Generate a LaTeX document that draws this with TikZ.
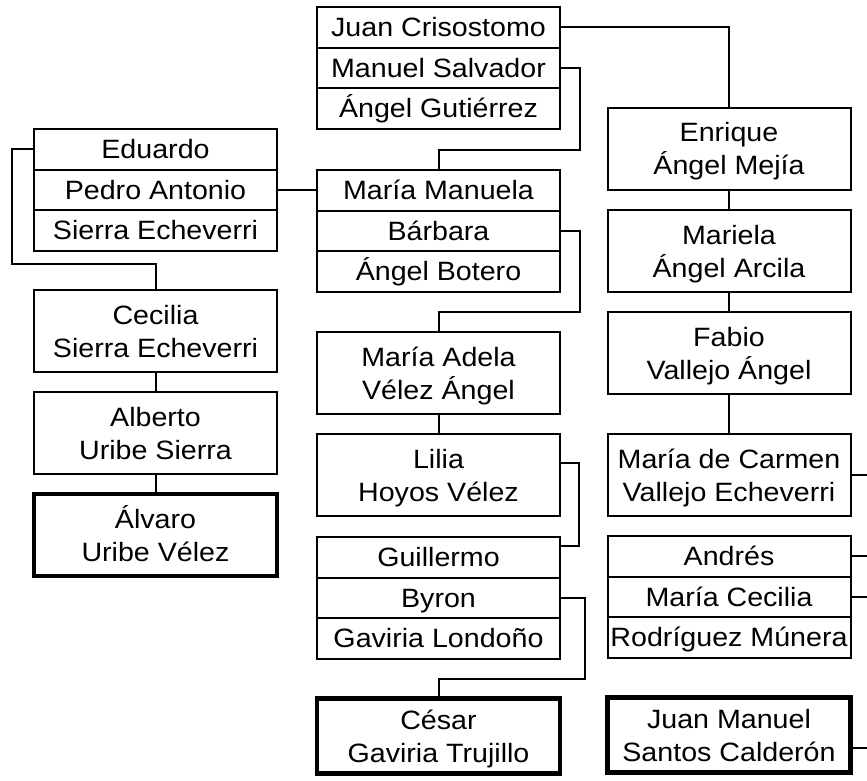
\documentclass[tikz,border=0pt]{standalone}
\usepackage{fontspec}
\setmainfont{Liberation Sans}[FakeStretch=1.08]
\usetikzlibrary{positioning}

\begin{document}
\begin{tikzpicture}[
  x=1pt, y=-1pt,
  font=\fontsize{26.5}{33}\selectfont,
  rnode/.style={draw=black, line width=2pt, outer sep=0pt, inner sep=0pt, minimum width=243pt, minimum height=40.5pt, text height=19pt, text depth=0pt},
  bnode/.style={draw=black, line width=2pt, outer sep=0pt, inner sep=0pt, minimum width=243pt, minimum height=82pt, align=center, text height=52pt, text depth=0pt},
  tbnode/.style={bnode, line width=4.5pt},
  conn/.style={-, line width=2pt}
  ]
\useasboundingbox (0,0) rectangle (867,781);
\coordinate (rim) at (867,0);

% top group
\node [rnode] (jc) at (438.5,27.5) {Juan Crisostomo};
\node [rnode, below=0pt of jc] (ms) {Manuel Salvador};
\node [rnode, below=0pt of ms] (ag) {Ángel Gutiérrez};

% left column
\node [rnode] (ed) at (155.5,149.25) {Eduardo};
\node [rnode, below=0pt of ed] (pa) {Pedro Antonio};
\node [rnode, below=0pt of pa] (se) {Sierra Echeverri};
\node [bnode] (cec) at (155.5,331) {Cecilia\\Sierra Echeverri};
\node [bnode, below=20pt of cec] (alb) {Alberto\\Uribe Sierra};
\node [tbnode, below=20pt of alb] (alv) {Álvaro\\Uribe Vélez};

% middle column
\node [rnode] (mm) at (438.5,190.25) {María Manuela};
\node [rnode, below=0pt of mm] (bb) {Bárbara};
\node [rnode, below=0pt of bb] (ab) {Ángel Botero};
\node [bnode, below=40.5pt of ab] (ade) {María Adela\\Vélez Ángel};
\node [bnode, below=20pt of ade] (lil) {Lilia\\Hoyos Vélez};
\node [rnode, below=21pt of lil] (gu) {Guillermo};
\node [rnode, below=0pt of gu] (by) {Byron};
\node [rnode, below=0pt of by] (gl) {Gaviria Londoño};
\node [tbnode, minimum height=75pt, below=40pt of gl] (ces) {César\\Gaviria Trujillo};

% right column
\node [bnode] (enr) at (729,149) {Enrique\\Ángel Mejía};
\node [bnode, below=20pt of enr] (mar) {Mariela\\Ángel Arcila};
\node [bnode, below=20pt of mar] (fab) {Fabio\\Vallejo Ángel};
\node [bnode, below=40pt of fab] (mdc) {María de Carmen\\Vallejo Echeverri};
\node [rnode, below=20pt of mdc] (and) {Andrés};
\node [rnode, below=0pt of and] (mc) {María Cecilia};
\node [rnode, below=0pt of mc] (rm) {Rodríguez Múnera};
\node [tbnode, minimum height=75pt, below=40pt of rm] (jms) {Juan Manuel\\Santos Calderón};

% links
\draw [conn] (jc.east) -| (enr.north);
\draw [conn] (ms.east) -- ++(20pt,0) |- ([yshift=20pt]mm.north) -- (mm.north);
\draw [conn] (ed.west) -- ++(-22pt,0) |- ([yshift=26pt]cec.north) -- (cec.north);
\draw [conn] (pa.east) -- (pa.east -| mm.west);
\draw [conn] (bb.east) -- ++(20pt,0) |- ([yshift=20pt]ade.north) -- (ade.north);
\draw [conn] (cec) -- (alb);
\draw [conn] (alb) -- (alv);
\draw [conn] (ade) -- (lil);
\draw [conn] ([yshift=12pt]lil.east) -- ++(19pt,0) |- ([yshift=11pt]gu.east);
\draw [conn] (by.east) -- ++(25pt,0) |- ([yshift=20pt]ces.north) -- (ces.north);
\draw [conn] (enr) -- (mar);
\draw [conn] (mar) -- (fab);
\draw [conn] (fab) -- (mdc);
\draw [conn] (mdc.east) -- (mdc.east -| rim);
\draw [conn] (and.east) -- (and.east -| rim);
\draw [conn] (mc.east) -- (mc.east -| rim);
\draw [conn] ([yshift=-13pt]jms.east) -- ([yshift=-13pt]jms.east -| rim);

\end{tikzpicture}
\end{document}
